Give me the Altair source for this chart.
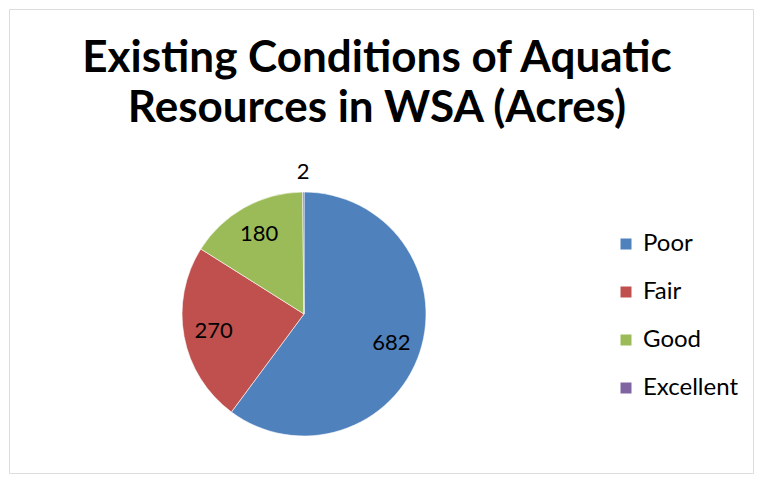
import altair as alt
import pandas as pd

categories = ["Poor", "Fair", "Good", "Excellent"]
values = [682, 270, 180, 2]
colors = ["#4F81BD", "#C0504D", "#9BBB59", "#8064A2"]
title_lines = ["Existing Conditions of Aquatic", "Resources in WSA (Acres)"]

df = pd.DataFrame({
    "category": categories,
    "value": values,
    "rank": list(range(len(categories))),
})

FONT = "Lato"
CX, CY = 295, 305

base = alt.Chart(df).encode(
    theta=alt.Theta("value:Q", stack=True),
    order=alt.Order("rank:Q"),
)

pie = base.mark_arc(outerRadius=122, stroke="white", strokeWidth=0.6).encode(
    x=alt.value(CX),
    y=alt.value(CY),
    color=alt.Color(
        "category:N",
        scale=alt.Scale(domain=categories, range=colors),
        legend=alt.Legend(
            title=None,
            orient="none",
            legendX=605,
            legendY=223,
            symbolType="square",
            symbolSize=121,
            symbolStrokeWidth=0,
            labelFont=FONT,
            labelFontSize=24,
            labelColor="black",
            labelOffset=5,
            rowPadding=24,
            padding=0,
        ),
    ),
)

inside = base.mark_text(radius=92, font=FONT, fontSize=22, color="black").encode(
    x=alt.value(CX), y=alt.value(CY), text="value:Q"
).transform_filter(alt.datum.value >= 10)

outside = base.mark_text(radius=142, font=FONT, fontSize=22, color="black").encode(
    x=alt.value(CX), y=alt.value(CY),
    text=alt.condition(alt.datum.value < 10, "value:Q", alt.value("")),
)

chart = alt.layer(pie, inside, outside).properties(
    width=744,
    height=464,
    padding=1,
    autosize=alt.AutoSizeParams(type="none"),
    title=alt.TitleParams(
        title_lines,
        anchor="middle",
        frame="group",
        font=FONT,
        fontSize=44,
        fontWeight="bold",
        color="black",
        lineHeight=50,
        baseline="alphabetic",
        offset=-157,
        dx=-4,
    ),
).configure_view(stroke="#868686", strokeWidth=1.5).configure(background="white")

chart.save("out.html", embed_options={"renderer": "svg", "actions": False})
